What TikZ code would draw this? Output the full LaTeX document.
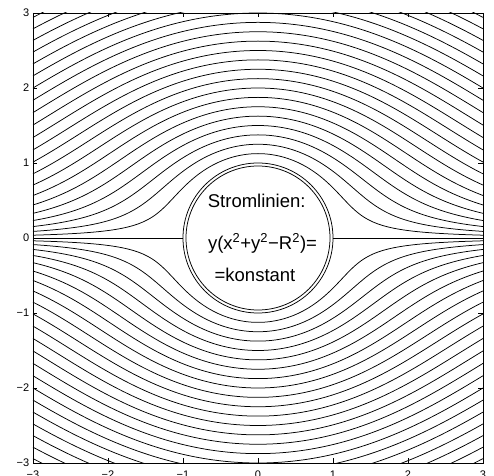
\documentclass[tikz,border=0pt]{standalone}
\usepackage{fontspec}
\setmainfont{Liberation Sans}
\ExplSyntaxOn
\fp_new:N \l__sl_x_fp
\fp_new:N \l__sl_p_fp
\fp_new:N \l__sl_d_fp
\fp_new:N \l__sl_u_fp
\fp_new:N \l__sl_y_fp
\fp_new:N \l__sl_c_fp
\tl_new:N \l__sl_left_tl
\tl_new:N \l__sl_right_tl
\tl_new:N \l__sl_pt_tl
\NewDocumentCommand \StreamLine { m }
  {
    \fp_set:Nn \l__sl_c_fp { (1 + (#1)/8)^3 - (1 + (#1)/8) }
    \tl_clear:N \l__sl_left_tl
    \tl_clear:N \l__sl_right_tl
    \int_step_inline:nnnn { 0 } { 1 } { 150 }
      {
        \fp_set:Nn \l__sl_x_fp { ##1 / 50 }
        \fp_set:Nn \l__sl_p_fp { \l__sl_x_fp * \l__sl_x_fp - 1 }
        \fp_set:Nn \l__sl_d_fp { \l__sl_c_fp * \l__sl_c_fp / 4 + \l__sl_p_fp * \l__sl_p_fp * \l__sl_p_fp / 27 }
        \fp_compare:nNnTF { \l__sl_d_fp } > { 0 }
          {
            \fp_set:Nn \l__sl_u_fp { ( \l__sl_c_fp / 2 + sqrt ( \l__sl_d_fp ) ) ^ ( 1 / 3 ) }
            \fp_set:Nn \l__sl_y_fp { \l__sl_u_fp - \l__sl_p_fp / ( 3 * \l__sl_u_fp ) }
          }
          {
            \fp_set:Nn \l__sl_y_fp
              { 2 * sqrt ( - \l__sl_p_fp / 3 ) * cos ( acos ( min ( 1 , ( \l__sl_c_fp / 2 ) / sqrt ( - \l__sl_p_fp * \l__sl_p_fp * \l__sl_p_fp / 27 ) ) ) / 3 ) }
          }
        \tl_set:Nx \l__sl_pt_tl { \fp_eval:n { round ( \l__sl_y_fp , 4 ) } }
        \tl_put_right:Nx \l__sl_right_tl { ( \fp_eval:n { ##1 / 50 } , \l__sl_pt_tl ) ~ }
        \int_compare:nNnT { ##1 } > { 0 }
          { \tl_put_left:Nx \l__sl_left_tl { ( - \fp_eval:n { ##1 / 50 } , \l__sl_pt_tl ) ~ } }
      }
    \use:x
      {
        \exp_not:N \draw [streamline] ~ plot ~ coordinates ~ { \exp_not:V \l__sl_left_tl \exp_not:V \l__sl_right_tl } ;
        \exp_not:N \draw [streamline , yscale = -1] ~ plot ~ coordinates ~ { \exp_not:V \l__sl_left_tl \exp_not:V \l__sl_right_tl } ;
      }
  }
\ExplSyntaxOff
\begin{document}
\begin{tikzpicture}[x=75pt,y=75pt,
  streamline/.style={line width=0.75pt,black,line join=round},
  frame/.style={line width=0.9pt,black},
  tick/.style={line width=0.6pt,black},
  ticklabel/.style={inner sep=0pt,font=\fontsize{11}{13}\selectfont},
  txt/.style={inner sep=0pt,font=\fontsize{18.5}{22}\selectfont}]
\useasboundingbox (-3.44,-3.1733) rectangle (3.1467,3.1733);
\begin{scope}
  \clip (-3,-3) rectangle (3,3);
  \foreach \k in {1,...,22} {\StreamLine{\k}}
  \draw[streamline] (0,0) circle (1);
  \draw[streamline] (-3,0) -- (-1,0);
  \draw[streamline] (1,0) -- (3,0);
\end{scope}
\node[circle,draw,line width=0.75pt,fill=white,inner sep=0pt,minimum size=144pt] (disk) at (0,0) {};
\node[txt,anchor=base] (t1) at (-0.017,0.404) {Stromlinien:};
\node[txt,anchor=base] (t2) at (0.06,-0.150) {y(x\textsuperscript{2}+y\textsuperscript{2}−R\textsuperscript{2})=};
\node[txt,anchor=base] (t3) at (-0.04,-0.583) {=konstant};
\draw[frame] (-3,-3) rectangle (3,3);
\foreach \i in {-3,...,3} {
  \draw[tick] (\i,-3) -- (\i,-2.94);
  \draw[tick] (\i,3) -- (\i,2.94);
  \draw[tick] (-3,\i) -- (-2.94,\i);
  \draw[tick] (3,\i) -- (2.94,\i);
}
\foreach \i/\l in {-3/−3,-2/−2,-1/−1,0/0,1/1,2/2,3/3} {
  \node[ticklabel,anchor=north] (xl\i) at (\i,-3.1) {\l};
  \node[ticklabel,anchor=east] (yl\i) at (-3.047,\i) {\l};
}
\end{tikzpicture}
\end{document}
